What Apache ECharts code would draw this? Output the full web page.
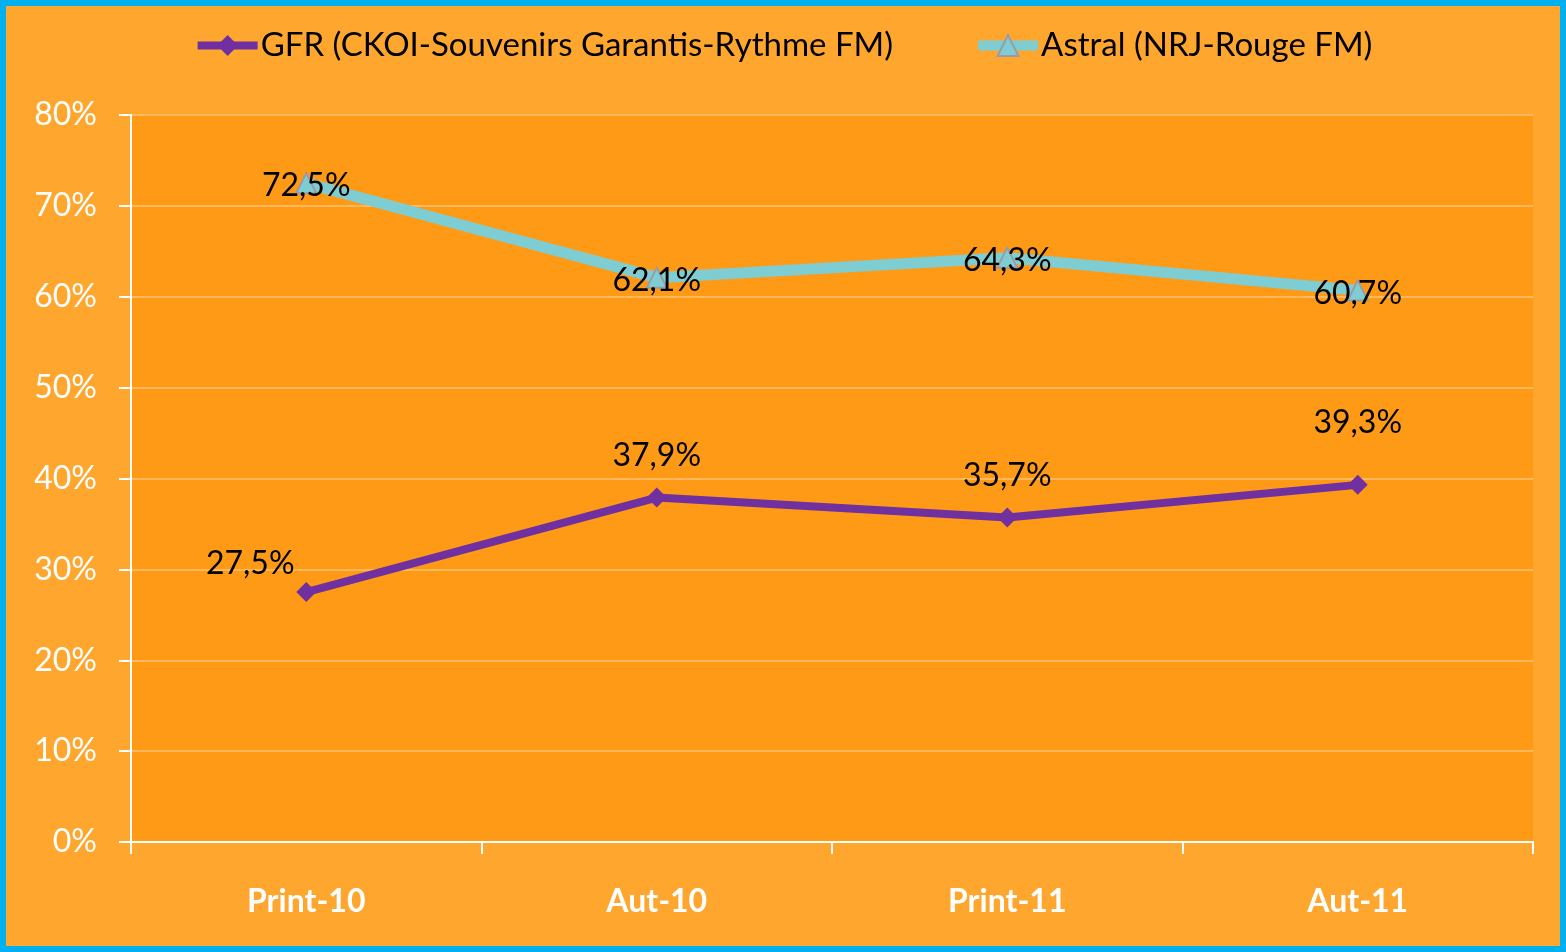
<!DOCTYPE html>
<html>
<head>
<meta charset="utf-8">
<script src="https://cdn.jsdelivr.net/npm/echarts@6/dist/echarts.min.js"></script>
<style>
  html, body { margin: 0; padding: 0; }
  #wrap {
    width: 1566px; height: 952px; box-sizing: border-box;
    border: 6px solid #00B0F0; background: #FFA62F;
  }
  #chart { width: 1554px; height: 940px; }
</style>
</head>
<body>
<div id="wrap"><div id="chart"></div></div>
<script>
const categories = ['Print-10', 'Aut-10', 'Print-11', 'Aut-11']
const gfrValues = [27.5, 37.9, 35.7, 39.3]
const astralValues = [72.5, 62.1, 64.3, 60.7]
const seriesNames = ['GFR (CKOI-Souvenirs Garantis-Rythme FM)', 'Astral (NRJ-Rouge FM)']

const fontFamily = 'Lato, "Open Sans", sans-serif'
const fmt = v => v.toFixed(1).replace('.', ',') + '%'

const chart = echarts.init(document.getElementById('chart'))

chart.setOption({
  animation: false,
  textStyle: { fontFamily },
  legend: {
    top: 18,
    left: 'center',
    itemWidth: 60,
    itemHeight: 26,
    itemGap: 80,
    textStyle: { fontSize: 33, color: '#000', fontFamily, padding: [0, 0, 0, -2] },
    data: [
      { name: seriesNames[0], lineStyle: { width: 8 } },
      { name: seriesNames[1], lineStyle: { width: 10 } }
    ]
  },
  grid: {
    left: 125,
    right: 27,
    top: 109,
    bottom: 104,
    show: true,
    backgroundColor: '#FF9A17',
    borderWidth: 0
  },
  xAxis: {
    type: 'category',
    data: categories,
    axisLine: { lineStyle: { color: '#fff', width: 2 } },
    axisTick: { show: true, length: 12, lineStyle: { color: '#fff', width: 2 } },
    axisLabel: { color: '#fff', fontSize: 32, fontWeight: 'bold', margin: 44, fontFamily }
  },
  yAxis: {
    type: 'value',
    min: 0,
    max: 80,
    interval: 10,
    axisLine: { show: true, lineStyle: { color: '#fff', width: 2 } },
    axisTick: { show: true, length: 12, lineStyle: { color: '#fff', width: 2 } },
    axisLabel: { color: '#fff', fontSize: 32, margin: 34, formatter: '{value}%', fontFamily },
    splitLine: { lineStyle: { color: '#FFB85C', width: 2 } }
  },
  series: [
    {
      name: seriesNames[0],
      type: 'line',
      data: gfrValues.map((v, i) => ({
        value: v,
        label: i === 0 ? { offset: [-56, 14] } : (i === 3 ? { distance: 36 } : {})
      })),
      symbol: 'diamond',
      symbolSize: 20,
      lineStyle: { color: '#7030A0', width: 8 },
      itemStyle: { color: '#7030A0' },
      label: {
        show: true,
        position: 'top',
        distance: 16,
        color: '#000',
        fontSize: 32,
        fontFamily,
        formatter: p => fmt(p.value)
      }
    },
    {
      name: seriesNames[1],
      type: 'line',
      data: astralValues,
      symbol: 'triangle',
      symbolSize: 20,
      lineStyle: { color: '#7ECDD3', width: 11 },
      itemStyle: { color: '#7ECDD3', borderColor: '#9A9AA8', borderWidth: 2 },
      label: {
        show: true,
        position: 'inside',
        offset: [0, 3],
        color: '#000',
        fontSize: 32,
        fontFamily,
        formatter: p => fmt(p.value)
      }
    }
  ]
})
</script>
</body>
</html>
